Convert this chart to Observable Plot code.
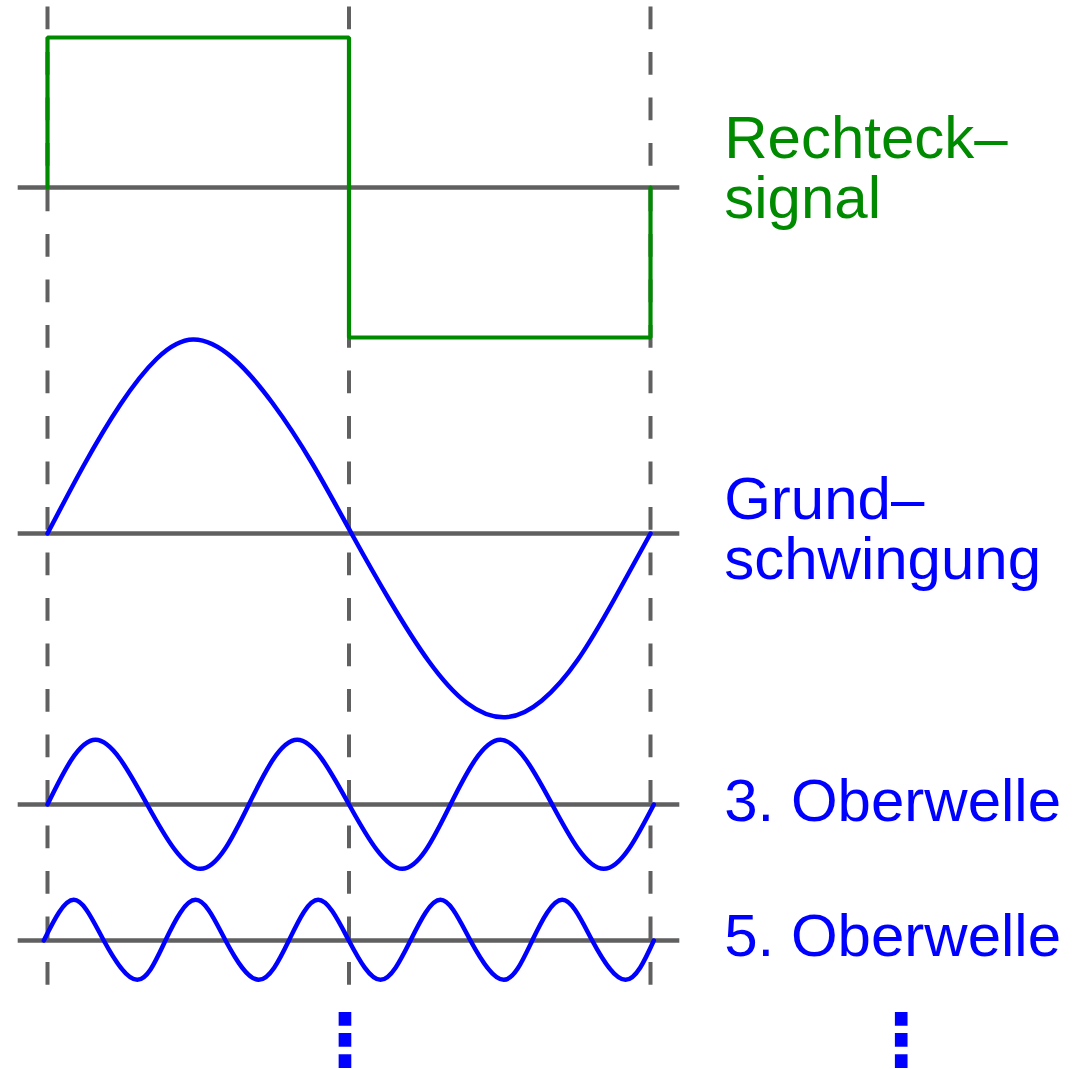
<!DOCTYPE html>
<html><head><meta charset="utf-8">
<script src="https://cdn.jsdelivr.net/npm/d3@7"></script>
<script src="https://cdn.jsdelivr.net/npm/@observablehq/plot@0.6"></script>
<style>html,body{margin:0;padding:0;background:#fff;} #chart{width:1083px;height:1069px;}</style>
</head><body><div id="chart"></div>
<script>
// ---- data (phase in degrees over one period, amplitude relative to the square wave = 1) ----
const squareT = [0, 0, 180, 180, 360, 360];
const squareA = [0, 1, 1, -1, -1, 0];

const fundamentalT = [0, 21.7, 43.5, 65.2, 87, 110.6, 134.3, 157.9, 181.5, 204.5, 227.5, 250.4, 273.4, 295, 316.7, 338.3, 360];
const fundamentalA = [0, 0.455, 0.86, 1.165, 1.293, 1.17, 0.87, 0.47, 0, -0.45, -0.85, -1.13, -1.225, -1.115, -0.84, -0.44, 0];

const thirdT = [0, 28.7, 59.5, 91.3, 120.2, 149.1, 180, 211.8, 240.6, 270.4, 301.3, 332.1, 362];
const thirdA = [0, 0.431, 0, -0.429, 0, 0.431, 0, -0.429, 0, 0.431, 0, -0.429, 0];

const fifthT = [-2.2, 15.7, 33.6, 53.6, 70.4, 88.4, 106.3, 126.1, 144.1, 161.6, 179.9, 198.8, 216.7, 234.6, 252.5, 272.4, 289.4, 307.3, 325.2, 345.1, 362.0];
const fifthA = [0, 0.271, 0, -0.262, 0, 0.271, 0, -0.262, 0, 0.271, 0, -0.262, 0, 0.271, 0, -0.262, 0, 0.271, 0, -0.262, 0];

const labels = ["Rechteck–\nsignal", "Grund–\nschwingung", "3. Oberwelle", "5. Oberwelle"];
const dashedAt = [0, 180, 360];
const ellipsis = "⋮";

// ---- layout & style ----
const W = 1083, H = 1069;
const GREEN = "#008a00", BLUE = "#0000ff", GREY = "#606060";
const FONT = "'Liberation Sans', Arial, Helvetica, sans-serif";
const FS = 60;
const PX = 150;                         // pixels per amplitude unit
const rowPx = [187, 533, 804, 940];     // baselines of the four rows
const frameTop = 6.5, frameBottom = 985;
const rowOffset = rowPx.map(p => (p - rowPx[0]) / PX);
const yDomain = [(frameTop - rowPx[0]) / PX, (frameBottom - rowPx[0]) / PX];
const labelColors = [GREEN, BLUE, BLUE, BLUE];
const labelDy = [-19, -4, -3, -4];
const overhang = 17.5;

function rows(T, A, k) { return T.map((t, i) => ({t, y: rowOffset[k] - A[i]})); }

const lineOpts = {x: "t", y: "y", stroke: BLUE, strokeWidth: 4.5, curve: "natural"};

const chart = Plot.plot({
  width: W, height: H,
  marginLeft: 47, marginRight: W - 650, marginTop: frameTop, marginBottom: H - frameBottom,
  x: {domain: [0, 360], axis: null},
  y: {domain: yDomain, range: [frameTop, frameBottom], axis: null},
  style: {background: "#fff", fontFamily: FONT},
  marks: [
    Plot.ruleX(dashedAt, {stroke: GREY, strokeWidth: 4, strokeDasharray: "22.75 22.75"}),
    Plot.ruleY(rowOffset, {x1: -overhang, x2: 360 + overhang, stroke: GREY, strokeWidth: 4.5}),
    Plot.line(rows(squareT, squareA, 0), {x: "t", y: "y", stroke: GREEN, strokeWidth: 4.2, strokeLinejoin: "miter"}),
    Plot.line(rows(fundamentalT, fundamentalA, 1), lineOpts),
    Plot.line(rows(thirdT, thirdA, 2), lineOpts),
    Plot.line(rows(fifthT, fifthA, 3), lineOpts),
    ...labels.map((lab, i) => Plot.text([lab], {
      x: 404, y: rowOffset[i], text: d => d, textAnchor: "start", lineAnchor: "middle",
      lineHeight: 60.5 / FS, fontSize: FS, fontFamily: FONT, fill: labelColors[i], dy: labelDy[i]
    })),
    ...[177.5, 509.6].map(xv => Plot.text([ellipsis], {
      x: xv, y: rowOffset[3], text: d => d, textAnchor: "middle", lineAnchor: "middle",
      fontSize: 72, fontFamily: "'DejaVu Sans', sans-serif", fontWeight: "bold", fill: BLUE, dy: 101
    }))
  ]
});
document.getElementById("chart").appendChild(chart);
</script>
</body></html>
